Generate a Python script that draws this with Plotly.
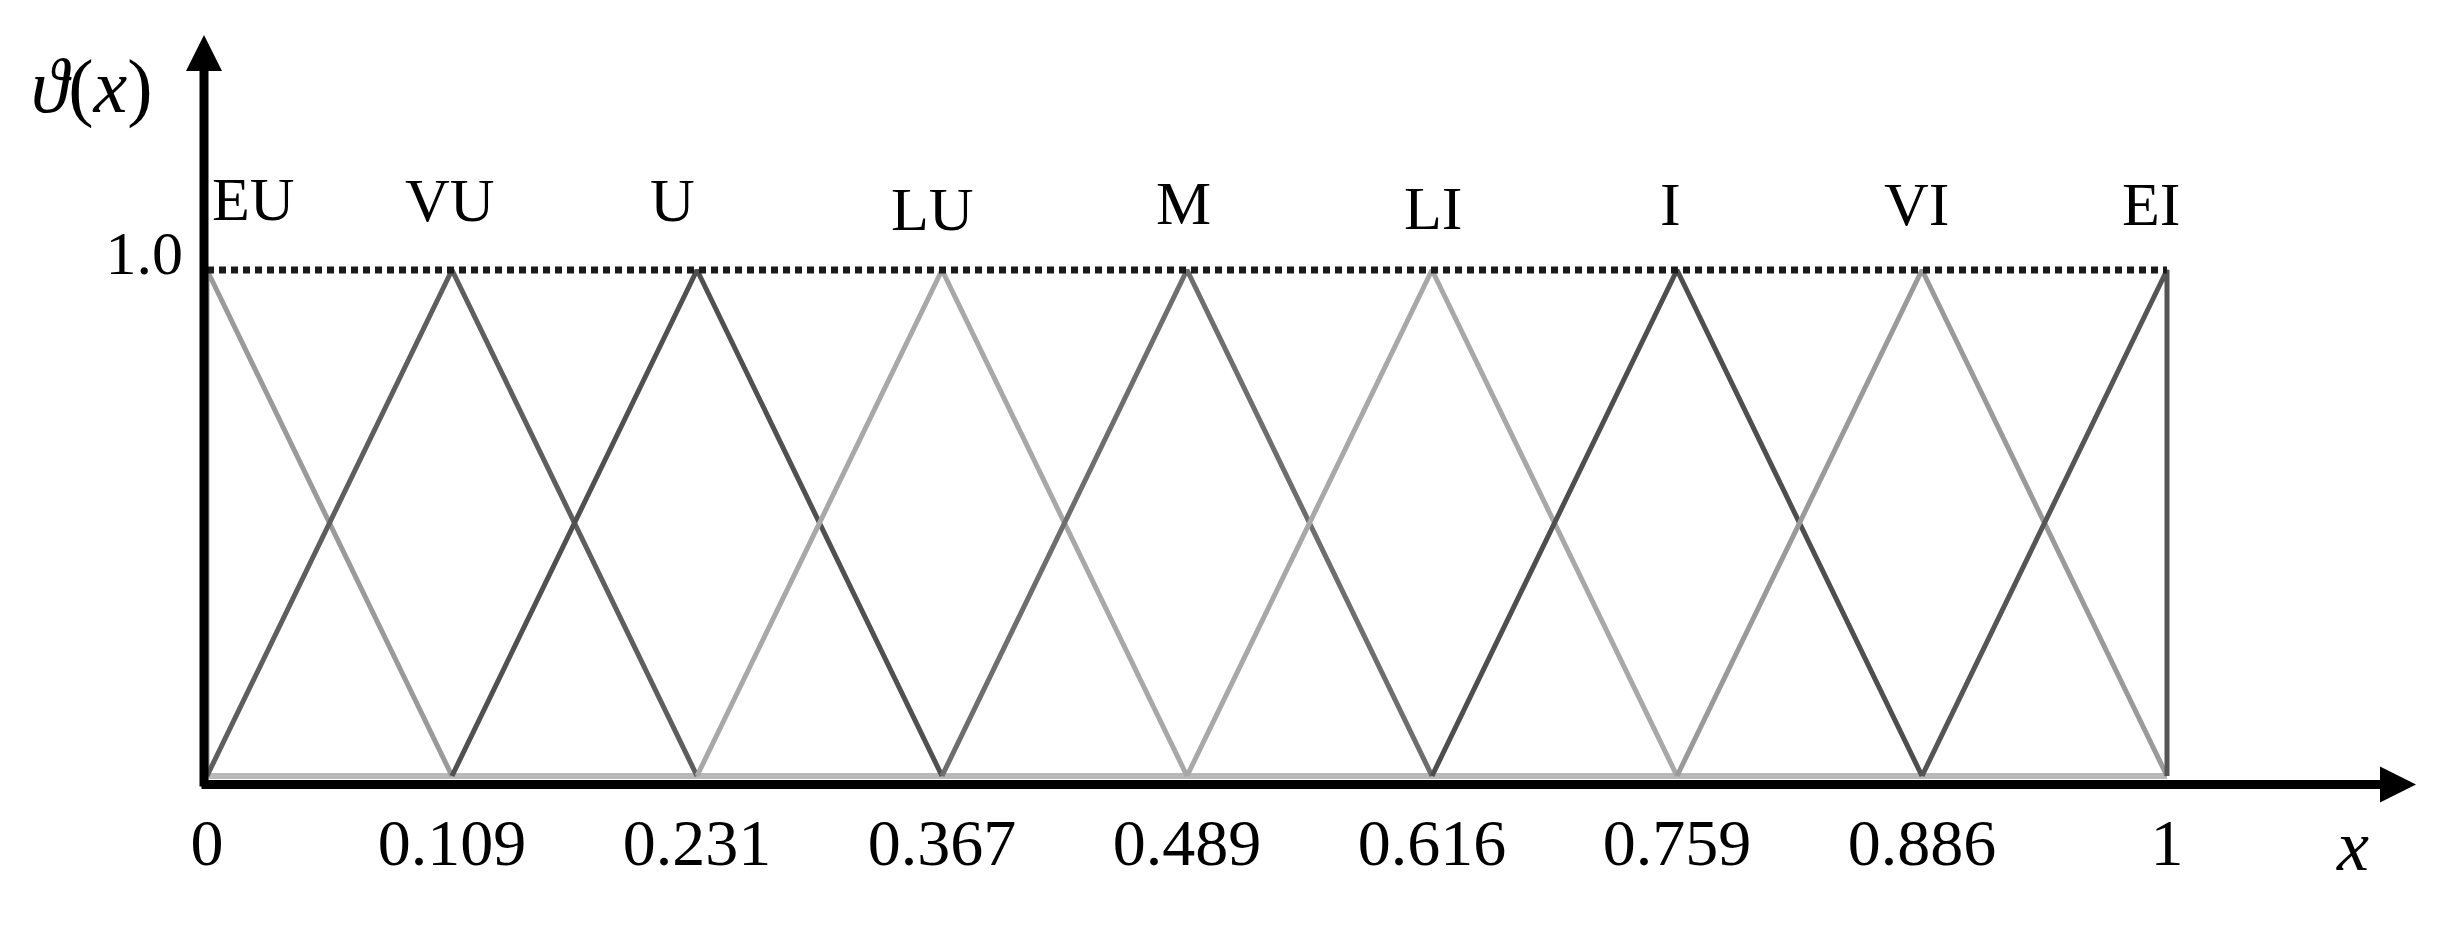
import plotly.graph_objects as go

# membership function names and the x value printed under each peak
terms = ["EU", "VU", "U", "LU", "M", "LI", "I", "VI", "EI"]
peak_labels = ["0", "0.109", "0.231", "0.367", "0.489", "0.616", "0.759", "0.886", "1"]
peak_height = 1.0
y_tick_vals = [1.0]
y_tick_text = ["1.0"]

# peaks are drawn evenly spaced in the figure, one slot per term
slots = list(range(len(terms)))

# styling
line_colors = ["#9a9a9a", "#5e5e5e", "#505050", "#a8a8a8", "#6e6e6e",
               "#a8a8a8", "#4e4e4e", "#9a9a9a", "#555555"]
label_nudge_px = [46, -2, -25, -10, -4, 1, -7, -6, -16]
label_y_px = [199, 200, 200, 209, 203, 208, 204, 204, 204]
FONT = "Liberation Serif, Times New Roman, serif"

W, H = 2444, 926
PAGE = 8                     # default body margin of the html page
X0_PX, DX_PX = 207, 245      # screen pixel of slot 0, pixels per slot
Y0_PX, DY_PX = 776, 506      # screen pixel of y=0, pixels per unit
PL, PR, PT, PB = 196, 2430, 20, 790   # plot area on screen


def xd(px):
    return (px - X0_PX) / DX_PX


def yd(py):
    return (Y0_PX - py) / DY_PX


def xp(px):
    return (px - PL) / (PR - PL)


def yp(py):
    return (PB - py) / (PB - PT)


fig = go.Figure()

last = slots[-1]
for i, name in enumerate(terms):
    s = slots[i]
    xs = [max(s - 1, 0), s, min(s + 1, last)]
    ys = [0, peak_height, 0]
    fig.add_trace(go.Scatter(
        x=xs, y=ys, mode="lines", name=name,
        line=dict(color=line_colors[i], width=5),
        cliponaxis=False, showlegend=False, hoverinfo="skip",
    ))

# baseline of the triangles
fig.add_shape(type="line", x0=slots[0], x1=last, y0=0, y1=0,
              line=dict(color="#b8b8b8", width=6), layer="below")
# dotted line at full membership
fig.add_shape(type="line", x0=slots[0], x1=last, y0=peak_height, y1=peak_height,
              line=dict(color="#1a1a1a", width=7, dash="7px,5px"))

# term labels above peaks
for i, name in enumerate(terms):
    fig.add_annotation(
        x=slots[i] + label_nudge_px[i] / DX_PX, y=yd(label_y_px[i]),
        xref="x", yref="y", text=name, showarrow=False,
        font=dict(family=FONT, size=62, color="black"),
        xanchor="center", yanchor="middle",
    )

# axis arrows
fig.add_annotation(x=xd(204), y=yd(35), xref="x", yref="y",
                   ax=0, ay=788 - 35, axref="pixel", ayref="pixel",
                   text="", showarrow=True, arrowhead=2, arrowsize=0.8,
                   arrowwidth=9, arrowcolor="black", standoff=0)
fig.add_annotation(x=xd(2416), y=yd(784.5), xref="x", yref="y",
                   ax=200 - 2416, ay=0, axref="pixel", ayref="pixel",
                   text="", showarrow=True, arrowhead=2, arrowsize=0.8,
                   arrowwidth=9, arrowcolor="black", standoff=0)

# axis titles
fig.add_annotation(x=xp(92), y=yp(86), xref="paper", yref="paper",
                   text="<i>ϑ</i>(<i>x</i>)", showarrow=False,
                   font=dict(family=FONT, size=76, color="black"),
                   xanchor="center", yanchor="middle")
fig.add_annotation(x=xp(2352), y=yp(846), xref="paper", yref="paper",
                   text="<i>x</i>", showarrow=False,
                   font=dict(family=FONT, size=72, color="black"),
                   xanchor="center", yanchor="middle")

fig.update_layout(
    width=W, height=H,
    margin=dict(l=PL - PAGE, r=W - (PR - PAGE), t=PT - PAGE, b=H - (PB - PAGE), pad=0),
    plot_bgcolor="white", paper_bgcolor="white",
    xaxis=dict(range=[xd(PL), xd(PR)], tickmode="array",
               tickvals=slots, ticktext=peak_labels,
               showgrid=False, zeroline=False, showline=False, ticks="",
               ticklabelstandoff=8,
               tickfont=dict(family=FONT, size=66, color="black")),
    yaxis=dict(range=[yd(PB), yd(PT)], tickmode="array",
               tickvals=y_tick_vals, ticktext=y_tick_text,
               showgrid=False, zeroline=False, showline=False, ticks="",
               ticklabelstandoff=12, ticklabelshift=-18,
               tickfont=dict(family=FONT, size=62, color="black")),
)

fig.write_html("out.html")
